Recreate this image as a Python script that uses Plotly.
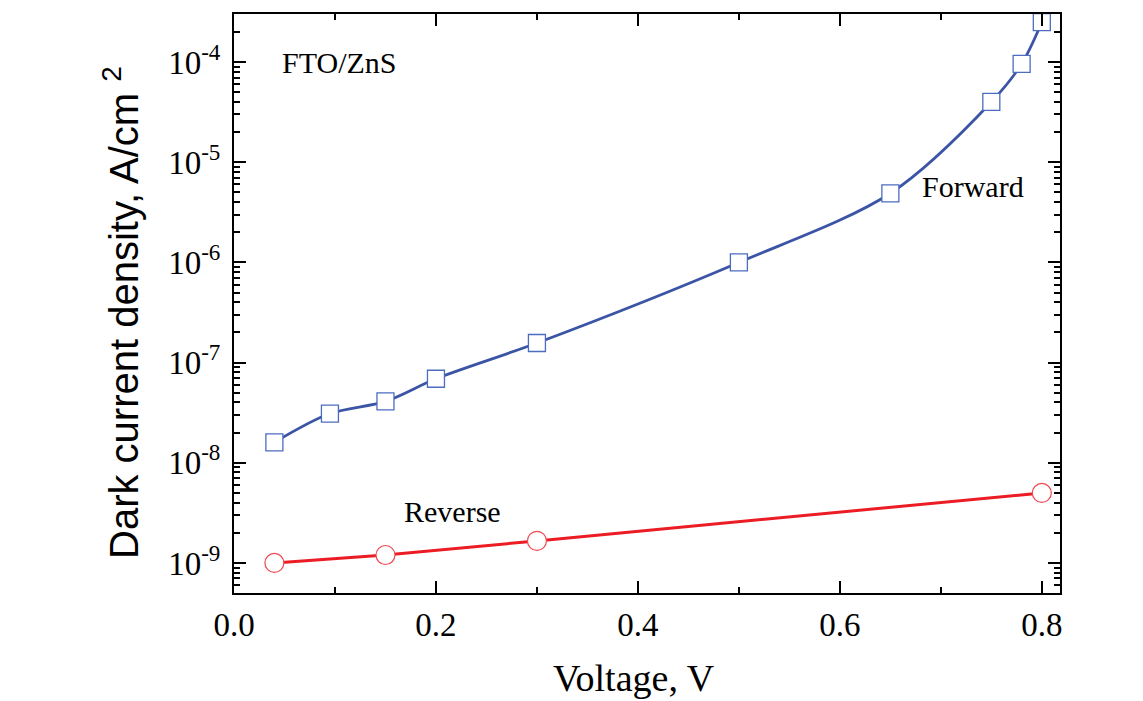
import plotly.graph_objects as go

# Data
fwd_v = [0.04, 0.095, 0.15, 0.2, 0.3, 0.5, 0.65, 0.75, 0.78, 0.8]
fwd_j = [1.6e-8, 3.1e-8, 4.1e-8, 6.9e-8, 1.57e-7, 1.0e-6, 4.9e-6, 4.0e-5, 9.6e-5, 2.5e-4]
rev_v = [0.04, 0.15, 0.3, 0.8]
rev_j = [1.0e-9, 1.2e-9, 1.66e-9, 5.0e-9]

x_ticks = [0.0, 0.2, 0.4, 0.6, 0.8]
x_ticktext = ["0.0", "0.2", "0.4", "0.6", "0.8"]
y_ticks = [1e-9, 1e-8, 1e-7, 1e-6, 1e-5, 1e-4]
y_ticktext = ["10<sup>-9</sup>", "10<sup>-8</sup>", "10<sup>-7</sup>",
              "10<sup>-6</sup>", "10<sup>-5</sup>", "10<sup>-4</sup>"]
y_minor = [m * 10.0 ** e for e in range(-10, -3) for m in range(2, 10)]

serif = "Liberation Serif"
sans = "Liberation Sans"

fig = go.Figure()
fig.add_trace(go.Scatter(
    x=fwd_v, y=fwd_j, mode="lines+markers", name="Forward",
    line=dict(color="#3B54A6", width=2.8, shape="spline", smoothing=0.9),
    marker=dict(symbol="square", size=17, color="white",
                line=dict(color="#4C6CC0", width=1.3)),
))
fig.add_trace(go.Scatter(
    x=rev_v, y=rev_j, mode="lines+markers", name="Reverse",
    line=dict(color="#EC1C24", width=3),
    marker=dict(symbol="circle", size=19, color="white",
                line=dict(color="#F04A52", width=1.2)),
))

fig.update_layout(
    width=1143, height=701,
    margin=dict(l=234, r=83, t=14, b=108),
    paper_bgcolor="white", plot_bgcolor="white",
    showlegend=False,
    font=dict(family=serif, color="black"),
    xaxis=dict(
        range=[0.0, 0.818], showgrid=False, zeroline=False,
        showline=True, linecolor="black", linewidth=2, mirror="allticks",
        ticks="inside", ticklen=12, tickwidth=2, tickcolor="black",
        tickmode="array", tickvals=x_ticks, ticktext=x_ticktext,
        tickfont=dict(family=serif, size=33, color="black"),
        ticklabelstandoff=1,
        minor=dict(ticks="inside", ticklen=6, tickwidth=2, tickcolor="black", dtick=0.1, showgrid=False),
    ),
    yaxis=dict(
        type="log", range=[-9.30, -3.52], showgrid=False, zeroline=False,
        showline=True, linecolor="black", linewidth=2, mirror="allticks",
        ticks="inside", ticklen=12, tickwidth=2, tickcolor="black",
        tickmode="array", tickvals=y_ticks, ticktext=y_ticktext,
        tickfont=dict(family=serif, size=33, color="black"),
        ticklabelstandoff=5,
        minor=dict(ticks="inside", ticklen=6, tickwidth=1.5, tickcolor="black",
                   tickmode="array", tickvals=y_minor, showgrid=False),
    ),
    annotations=[
        dict(text="Voltage, V", xref="paper", yref="paper", x=(634 - 234) / 826, y=-(678 - 593) / 579,
             xanchor="center", yanchor="middle", showarrow=False,
             font=dict(family=serif, size=38, color="black")),
        dict(text="Dark current density, A/cm <sup>2</sup>", xref="paper", yref="paper",
             x=-(234 - 121) / 826, y=(593 - 312) / 579, textangle=-90,
             xanchor="center", yanchor="middle", showarrow=False,
             font=dict(family=sans, size=40, color="black")),
        dict(text="FTO/ZnS", xref="x", yref="y", x=0.0455, y=-4.0,
             xanchor="left", yanchor="middle", showarrow=False,
             font=dict(family=serif, size=30, color="black")),
        dict(text="Forward", xref="x", yref="y", x=0.679, y=-5.24,
             xanchor="left", yanchor="middle", showarrow=False,
             font=dict(family=serif, size=30, color="black")),
        dict(text="Reverse", xref="x", yref="y", x=0.166, y=-8.49,
             xanchor="left", yanchor="middle", showarrow=False,
             font=dict(family=serif, size=30, color="black")),
    ],
)

fig.write_html("out.html")
